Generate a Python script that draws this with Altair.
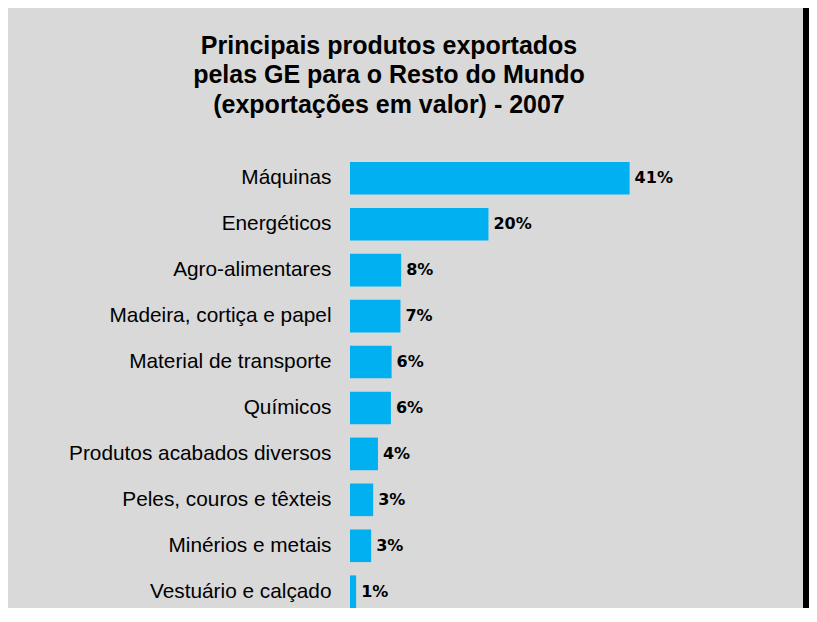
import altair as alt
import pandas as pd

categorias = [
    "Máquinas",
    "Energéticos",
    "Agro-alimentares",
    "Madeira, cortiça e papel",
    "Material de transporte",
    "Químicos",
    "Produtos acabados diversos",
    "Peles, couros e têxteis",
    "Minérios e metais",
    "Vestuário e calçado",
]
valores = [41.0, 20.3, 7.5, 7.4, 6.1, 6.0, 4.1, 3.4, 3.1, 0.9]
rotulos = ["41%", "20%", "8%", "7%", "6%", "6%", "4%", "3%", "3%", "1%"]
titulo = [
    "Principais produtos exportados",
    "pelas GE para o Resto do Mundo",
    "(exportações em valor) - 2007",
]

df = pd.DataFrame({"cat": categorias, "val": valores, "lab": rotulos})

BG = "#d9d9d9"
BAR = "#00b0f0"

y_enc = alt.Y(
    "cat:N",
    sort=categorias,
    scale=alt.Scale(paddingInner=0.29, paddingOuter=0),
    axis=alt.Axis(
        title=None,
        ticks=False,
        domain=False,
        labelFont="Liberation Sans",
        labelFontSize=20.8,
        labelColor="#000000",
        labelPadding=19,
        labelLimit=400,
    ),
)
x_enc = alt.X("val:Q", scale=alt.Scale(domain=[0, 50], nice=False), axis=None)

bars = alt.Chart(df).mark_bar(color=BAR).encode(x=x_enc, y=y_enc)

labels = alt.Chart(df).mark_text(
    align="left",
    baseline="middle",
    dx=5,
    font="DejaVu Sans",
    fontWeight="bold",
    fontSize=16,
    color="#000000",
).encode(x=x_enc, y=y_enc, text="lab:N")

title_mark = alt.Chart(alt.Data(values=[{}])).mark_text(
    text=titulo,
    align="center",
    baseline="alphabetic",
    font="Liberation Sans",
    fontSize=25,
    fontWeight="bold",
    lineHeight=29.3,
    color="#000000",
).encode(x=alt.value(39), y=alt.value(-108))

strip = alt.Chart(alt.Data(values=[{}])).mark_rect(color="#000000").encode(
    x=alt.value(453), x2=alt.value(459), y=alt.value(-160), y2=alt.value(460)
)

chart = (
    alt.layer(bars, labels, title_mark, strip)
    .properties(
        width=341,
        height=446,
        background=BG,
        padding={"left": 342, "top": 154, "right": 118, "bottom": 0},
        autosize=alt.AutoSizeParams(type="none"),
    )
    .configure_view(stroke=None)
)

chart.save("out.html", embed_options={"renderer": "svg", "actions": False})
